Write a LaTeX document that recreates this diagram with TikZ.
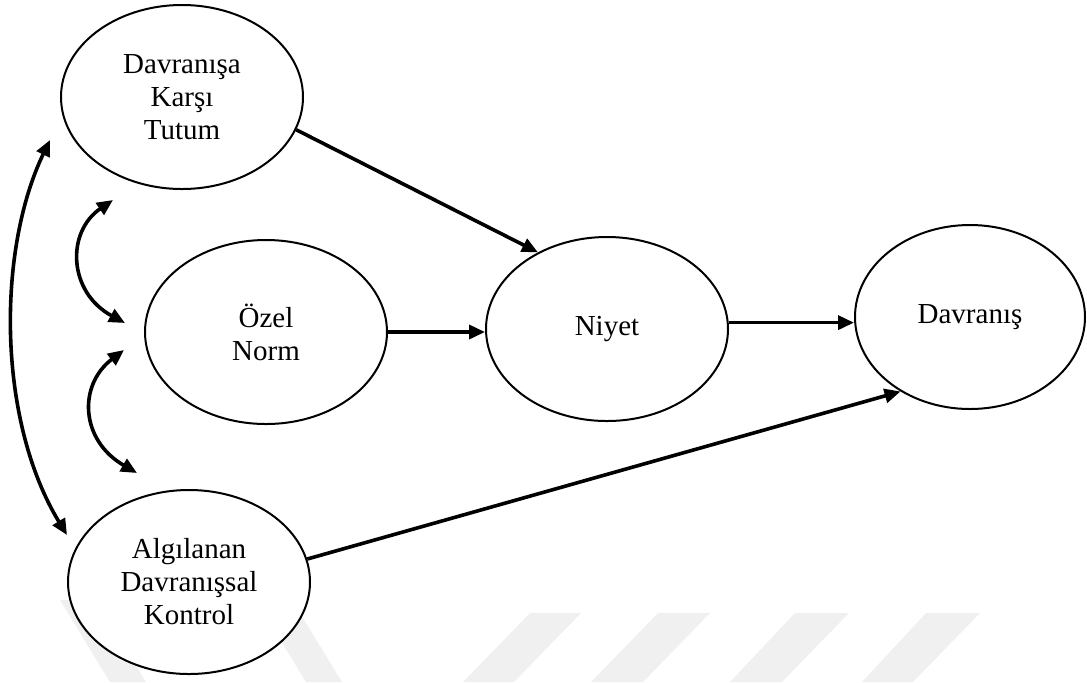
\documentclass[tikz,border=0pt]{standalone}
\usepackage{fontspec}
\setmainfont{Liberation Serif}
\usetikzlibrary{shapes.geometric,arrows.meta}
\begin{document}
\begin{tikzpicture}[x=0.5pt, y=-0.5pt,
    oval/.style={ellipse, draw, line width=1pt, fill=white, inner sep=0pt,
        minimum width=121pt, minimum height=92pt, align=center,
        font=\fontsize{14.5}{16.5}\selectfont},
    arr/.style={line width=1.8pt, -{Triangle[length=8pt,width=7pt]}},
    dbl/.style={line width=1.8pt, {Triangle[length=8pt,width=7pt]}-{Triangle[length=8pt,width=7pt]}},
    wm/.style={fill=black!6, draw=none}]
    \useasboundingbox (0,0) rectangle (1087,682);

    % Wasserzeichen
    \fill[wm] (530,613) -- (581,613) -- (514,682) -- (463,682) -- cycle;
    \fill[wm] (658,613) -- (710,613) -- (643,682) -- (591,682) -- cycle;
    \fill[wm] (795,613) -- (849,613) -- (782,682) -- (730,682) -- cycle;
    \fill[wm] (926,613) -- (980,613) -- (913,682) -- (862,682) -- cycle;
    \fill[wm] (262,610) -- (298,610) -- (342,682) -- (306,682) -- cycle;
    \fill[wm] (60,600) -- (96,600) -- (146,682) -- (110,682) -- cycle;

    % Knoten
    \node[oval] (tutum) at (182,97) {Davranışa\\Karşı\\Tutum};
    \node[oval] (norm) at (266,332) {Özel\\Norm};
    \node[oval] (niyet) at (607,329) {Niyet};
    \node[oval, minimum width=115pt] (davranis) at (970,317) {Davranış};
    \node[oval] (algi) at (189,582) {Algılanan\\Davranışsal\\Kontrol};

    % freie Enden der Bögen
    \coordinate (langO) at (50,140);
    \coordinate (langU) at (67,535);
    \coordinate (kurz1O) at (113,200);
    \coordinate (kurz1U) at (125,323);
    \coordinate (kurz2O) at (124,350);
    \coordinate (kurz2U) at (137,473);

    % Pfeile
    \draw[arr] (tutum.-16) -- (niyet.132);
    \draw[arr] (norm.east) -- (norm.east -| niyet.west);
    \draw[arr] (niyet.3) -- (niyet.3 -| davranis.west);
    \draw[arr] (algi.11) -- (davranis.227);

    % Korrelationen
    \draw[dbl] (langU) .. controls (-3,420) and (-3,250) .. (langO);
    \draw[dbl] (kurz1O) .. controls (66,232) and (68,292) .. (kurz1U);
    \draw[dbl] (kurz2O) .. controls (78,385) and (80,440) .. (kurz2U);
\end{tikzpicture}
\end{document}
